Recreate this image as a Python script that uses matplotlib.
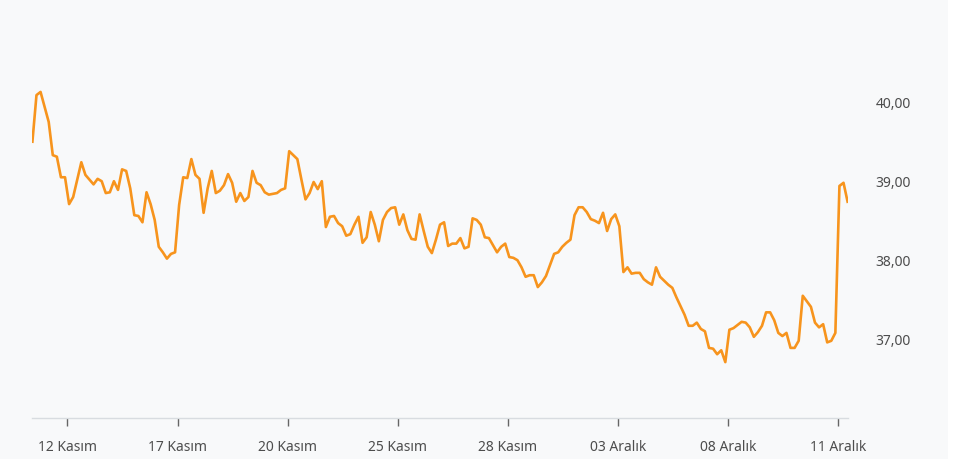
import matplotlib
matplotlib.use("Agg")
import matplotlib.pyplot as plt
from matplotlib.patches import Rectangle
import numpy as np

# Price series (hourly points)
prices = [
    39.51, 40.10, 40.14, 39.95, 39.76, 39.34, 39.32, 39.06, 39.06, 38.72,
    38.81, 39.03, 39.25, 39.09, 39.03, 38.97, 39.04, 39.01, 38.86, 38.87,
    39.01, 38.90, 39.16, 39.14, 38.92, 38.58, 38.57, 38.49, 38.87, 38.72,
    38.52, 38.18, 38.11, 38.03, 38.09, 38.11, 38.71, 39.06, 39.05, 39.29,
    39.09, 39.04, 38.61, 38.92, 39.14, 38.86, 38.89, 38.96, 39.10, 38.99,
    38.75, 38.86, 38.76, 38.81, 39.14, 38.99, 38.96, 38.87, 38.84, 38.85,
    38.86, 38.90, 38.92, 39.39, 39.34, 39.29, 39.03, 38.78, 38.86, 39.00,
    38.91, 39.01, 38.43, 38.56, 38.57, 38.48, 38.44, 38.32, 38.34, 38.46,
    38.56, 38.23, 38.30, 38.62, 38.46, 38.25, 38.52, 38.62, 38.67, 38.68,
    38.46, 38.59, 38.39, 38.28, 38.27, 38.59, 38.38, 38.18, 38.10, 38.27,
    38.46, 38.49, 38.19, 38.22, 38.22, 38.29, 38.16, 38.18, 38.54, 38.52,
    38.46, 38.30, 38.29, 38.20, 38.11, 38.18, 38.22, 38.05, 38.04, 38.01,
    37.92, 37.80, 37.82, 37.82, 37.67, 37.73, 37.81, 37.95, 38.09, 38.11,
    38.18, 38.23, 38.27, 38.58, 38.68, 38.68, 38.62, 38.53, 38.51, 38.48,
    38.61, 38.38, 38.53, 38.59, 38.44, 37.86, 37.92, 37.84, 37.85, 37.85,
    37.77, 37.73, 37.70, 37.92, 37.80, 37.75, 37.70, 37.66, 37.54, 37.43,
    37.32, 37.18, 37.18, 37.22, 37.14, 37.11, 36.90, 36.89, 36.82, 36.87,
    36.72, 37.13, 37.15, 37.19, 37.23, 37.22, 37.16, 37.04, 37.10, 37.18,
    37.35, 37.35, 37.25, 37.09, 37.05, 37.09, 36.90, 36.90, 36.99, 37.56,
    37.49, 37.42, 37.22, 37.16, 37.20, 36.97, 36.99, 37.09, 38.95, 38.99,
    38.75,
]

x_tick_pos = [8.6, 35.6, 62.6, 89.6, 116.6, 143.6, 170.6, 197.6]
x_tick_labels = ["12 Kasım", "17 Kasım", "20 Kasım", "25 Kasım",
                 "28 Kasım", "03 Aralık", "08 Aralık", "11 Aralık"]
y_tick_vals = [37.0, 38.0, 39.0, 40.0]
y_tick_labels = ["37,00", "38,00", "39,00", "40,00"]

plt.rcParams['font.family'] = ['Noto Sans', 'DejaVu Sans']

W, H = 960, 459
bg = "#f8f9fa"
fig = plt.figure(figsize=(W / 100, H / 100), dpi=100, facecolor=bg)
fig.patches.append(Rectangle((948 / W, 0), 12 / W, 1, transform=fig.transFigure,
                             facecolor="white", edgecolor="none", zorder=0))

left, right, bottom, top = 32, 848, 418, 40
ax = fig.add_axes([left / W, (H - bottom) / H, (right - left) / W, (bottom - top) / H])
ax.set_facecolor(bg)

xs = np.arange(len(prices))
ax.plot(xs, prices, color="#f7941d", linewidth=1.9, solid_joinstyle="round")

ax.set_xlim(-0.1, len(prices) - 1 + 0.1)
y_bot = 37 - (418 - 340) / 79
y_top = 37 + (340 - 40) / 79
ax.set_ylim(y_bot, y_top)

for s in ["top", "left", "right"]:
    ax.spines[s].set_visible(False)
ax.spines["bottom"].set_color("#d8dce0")
ax.spines["bottom"].set_linewidth(1.0)

ax.set_xticks(x_tick_pos)
ax.set_xticklabels(x_tick_labels)
ax.tick_params(axis="x", length=6, width=1, color="#666666", labelcolor="#4d4d4d",
               labelsize=10, pad=10)

ax.yaxis.tick_right()
ax.set_yticks(y_tick_vals)
ax.set_yticklabels(y_tick_labels)
ax.tick_params(axis="y", length=0, labelcolor="#4d4d4d", labelsize=10, pad=20)
for lbl in ax.get_yticklabels():
    lbl.set_horizontalalignment("left")

fig.savefig("out.png", dpi=100, facecolor=bg)
